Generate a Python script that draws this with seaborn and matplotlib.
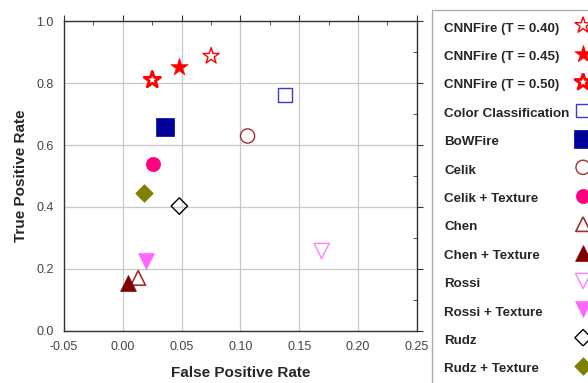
import matplotlib
matplotlib.use("Agg")
import matplotlib.pyplot as plt
import seaborn as sns
from matplotlib.ticker import MultipleLocator

methods = ["CNNFire (T = 0.40)", "CNNFire (T = 0.45)", "CNNFire (T = 0.50)",
           "Color Classification", "BoWFire", "Celik", "Celik + Texture",
           "Chen", "Chen + Texture", "Rossi", "Rossi + Texture", "Rudz",
           "Rudz + Texture"]
fpr = [0.075, 0.048, 0.025, 0.138, 0.036, 0.106, 0.026,
       0.013, 0.004, 0.169, 0.020, 0.048, 0.018]
tpr = [0.887, 0.852, 0.810, 0.761, 0.658, 0.629, 0.539,
       0.171, 0.155, 0.258, 0.226, 0.403, 0.445]

# marker, colour, filled, size, edge width
styles = [
    ("*", "#ff0000", False, 150, 1.0),
    ("*", "#ff0000", True, 170, 0.5),
    ("*", "#ff0000", False, 150, 2.0),
    ("s", "#3a3ad0", False, 95, 1.0),
    ("s", "#000099", True, 150, 0.5),
    ("o", "#a03030", False, 105, 1.0),
    ("o", "#ff0080", True, 105, 0.5),
    ("^", "#a03030", False, 110, 1.2),
    ("^", "#800000", True, 130, 0.5),
    ("v", "#ff80ff", False, 120, 1.0),
    ("v", "#ff66ff", True, 130, 0.5),
    ("D", "#000000", False, 70, 1.0),
    ("D", "#7f7f00", True, 80, 0.5),
]

sns.set_style("white")
plt.rcParams["font.family"] = ["Liberation Sans", "DejaVu Sans"]

fig = plt.figure(figsize=(5.88, 3.83), dpi=100)
ax = fig.add_axes([0.109, 0.136, 0.600, 0.809])

for name, x, y, (m, c, filled, s, lw) in zip(methods, fpr, tpr, styles):
    if filled:
        sns.scatterplot(x=[x], y=[y], ax=ax, marker=m, s=s, color=c,
                        edgecolor=c, linewidth=lw, label=name, zorder=3)
    else:
        sns.scatterplot(x=[x], y=[y], ax=ax, marker=m, s=s, color=c,
                        facecolor="none", edgecolor=c, linewidth=lw,
                        label=name, zorder=3)

ax.set_xlim(-0.05, 0.25)
ax.set_ylim(0.0, 1.0)
ax.xaxis.set_major_locator(MultipleLocator(0.05))
ax.xaxis.set_minor_locator(MultipleLocator(0.025))
ax.yaxis.set_major_locator(MultipleLocator(0.2))
ax.yaxis.set_minor_locator(MultipleLocator(0.1))
ax.set_xticklabels([f"{v:.2f}" for v in ax.get_xticks()])
ax.set_yticklabels([f"{v:.1f}" for v in ax.get_yticks()])
ax.grid(True, which="major", color="#c8c8c8", linewidth=0.9)
for sp in ax.spines.values():
    sp.set_color("#333333")
    sp.set_linewidth(1.0)
ax.tick_params(which="both", top=True, right=True, labeltop=False,
               labelright=False, colors="#333333", labelcolor="#444444",
               labelsize=9)
ax.tick_params(which="major", direction="out", length=4)
ax.tick_params(which="minor", direction="in", length=3)
ax.set_xlabel("False Positive Rate", fontsize=11, fontweight="bold",
              labelpad=9)
ax.set_ylabel("True Positive Rate", fontsize=11, fontweight="bold",
              labelpad=6)

leg = ax.legend(loc="upper left", bbox_to_anchor=(1.042, 1.036),
                markerfirst=False, frameon=True, fancybox=False,
                prop={"weight": "bold", "size": 9.6}, labelspacing=1.23,
                handlelength=1.2, handletextpad=0.4, borderpad=0.95,
                borderaxespad=0, scatteryoffsets=[0.85])
leg.get_frame().set_edgecolor("#999999")
leg.get_frame().set_linewidth(1.0)

# left-align the labels: widen the gap to the marker on short rows
fig.canvas.draw()
renderer = fig.canvas.get_renderer()
widths = [t.get_window_extent(renderer).width for t in leg.get_texts()]
pt = renderer.points_to_pixels(1.0)
rows = leg._legend_handle_box.get_children()[0].get_children()
for row, w in zip(rows, widths):
    row.sep = row.sep + (max(widths) - w) / pt
    row.align = "center"

fig.savefig("out.png", dpi=100)
